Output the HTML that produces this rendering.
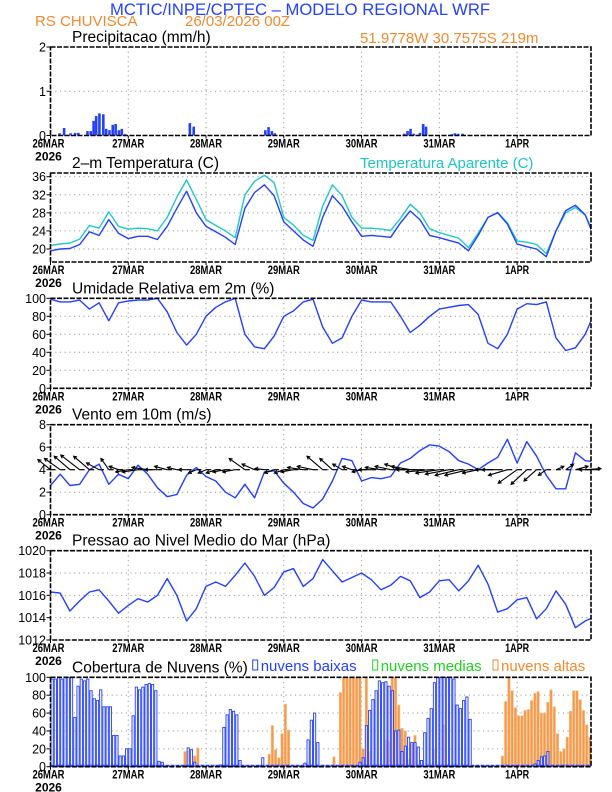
<!DOCTYPE html>
<html><head><meta charset="utf-8"><style>
html,body{margin:0;padding:0;background:#fff;}
svg{display:block;font-family:"Liberation Sans",sans-serif;}
</style></head><body>
<svg id="chart" width="612" height="792" viewBox="0 0 612 792" xmlns="http://www.w3.org/2000/svg">
<text x="300" y="15" text-anchor="middle" font-size="17" fill="#2440ff" textLength="380" lengthAdjust="spacingAndGlyphs">MCTIC/INPE/CPTEC – MODELO REGIONAL WRF</text>
<text x="35" y="26" font-size="15" fill="#f08a30">RS CHUVISCA</text>
<text x="185" y="26" font-size="15" fill="#f08a30">26/03/2026 00Z</text>
<text x="360" y="43" font-size="15" fill="#f08a30">51.9778W 30.7575S 219m</text>
<g id="plots"></g>
</svg>
<script>
// ---- data ----
const dayLabels=["26MAR","27MAR","28MAR","29MAR","30MAR","31MAR","1APR"];
const precipHours=[2.4,3.8,5.8,7.2,8.2,11,12,12.9,13.7,14.7,15.9,16.8,17.8,18.8,19.7,20.7,21.6,22.6,42.6,43.8,65.9,66.9,67.9,68.8,108.8,109.8,110.7,111.7,113.6,114.6,115.5,123.5,124.4,125.4,126.8];
const precipVals=[0.05,0.17,0.05,0.06,0.06,0.1,0.1,0.33,0.44,0.5,0.48,0.15,0.12,0.24,0.26,0.12,0.15,0.03,0.28,0.2,0.12,0.19,0.1,0.05,0.04,0.1,0.15,0.04,0.06,0.26,0.2,0.03,0.05,0.04,0.04];
const tempVals=[19.6,20.0,20.1,21.0,23.8,23.0,26.5,23.5,22.3,22.8,22.8,22.1,25,29,32.8,28,25,23.8,22.6,21,29,32.5,34.2,31.8,26,24,22,20.6,27,31.8,29.5,26,22.8,23,22.8,22.6,25.8,28.4,26.5,23,22.5,21.9,21.3,19.6,23,27,28,25.5,21.1,20.5,20,18.3,24,28.5,29.7,27.6,22.2];
const apparentVals=[20.8,21.1,21.3,22.2,25.2,24.6,28.2,25.0,24.4,24.6,24.5,24.0,27,31.5,35.3,31,26.5,25.2,24,22.5,32,35,36.3,34.7,27,25.3,23,21.9,29.5,34.2,31.8,27,24.6,24.6,24.4,24.1,26.8,29.9,28,24.5,23.6,23,22.4,20.3,23.5,27,28.1,25.8,21.8,21.5,21,19,24,28,29.2,27.5,23];
const rhVals=[99,96,96,98,88,95,75,95,97,98,98,100,85,62,48,60,80,90,96,100,60,46,44,58,80,86,96,99,68,50,56,80,98,96,96,96,80,62,70,80,88,90,92,93,82,50,44,60,88,94,93,96,56,42,45,60,85];
const windVals=[2.6,3.6,2.6,2.7,4.0,4.5,2.7,3.6,3.2,4.4,3.6,2.4,1.6,1.8,3.5,4.2,3.4,3.0,2.0,1.5,2.7,1.5,3.8,3.9,2.8,2.0,1.0,0.6,1.4,3.0,5.0,4.8,3.0,3.3,3.2,3.4,4.6,5.0,5.7,6.2,6.1,5.6,4.8,4.5,4.0,4.6,5.1,6.7,4.6,6.5,5.2,3.5,2.3,2.3,5.5,4.8,4.7];
const windU=[-0.8,-1,-1,-1.2,-1,-0.8,-0.5,-0.6,-0.8,-1,-1,-0.8,-0.8,-0.6,-0.5,-0.5,-0.5,-0.6,-0.8,-0.8,-1,-0.8,-0.6,-0.6,-0.6,-0.8,-1,-1,-1,-0.8,-0.6,-0.6,-0.6,-0.8,-1,-1,-1,-1.2,-1.5,-1.5,-1.5,-1.5,-1.5,-1.5,-1,-0.8,-1,-1.2,-1.2,-1,-0.8,-0.5,0.5,0.5,0.8,1,-1];
const windV=[0.9,1.0,1.2,1.3,1.2,0.6,1.0,0.3,-0.2,-0.2,0.2,0,0.3,0.2,0,-0.3,-0.3,-0.3,-0.2,-0.2,1.0,0.5,0.1,-0.3,-0.3,-0.2,0.2,0.3,1.2,1.0,0.5,0.3,-0.2,0,0.2,0.3,0.5,0.3,0,-0.2,-0.3,-0.4,-0.5,-0.5,-0.3,0,0,-0.5,-1.2,-1.3,-1.0,-0.5,0.3,0.5,0.3,0.1,0];
const pressVals=[1016.3,1016.2,1014.6,1015.5,1016.3,1016.5,1015.5,1014.4,1015.1,1015.7,1015.4,1016,1017.5,1016,1013.7,1014.8,1016.8,1017.2,1016.8,1017.8,1018.9,1017.7,1016,1016.7,1018.1,1018.4,1016.8,1017.5,1019.2,1018.2,1017.2,1017.6,1018,1017.4,1016.5,1016.9,1017.7,1017.3,1015.8,1016.3,1017.3,1017.4,1016.4,1017.3,1018.7,1017,1014.5,1014.8,1015.6,1015.8,1013.9,1014.8,1016.4,1015.2,1013.1,1013.7,1014.1];
const cloudLow=[98,98,100,98,100,100,100,55,90,98,96,98,85,76,74,86,67,67,67,35,35,12,12,20,
20,57,89,86,89,92,93,92,85,6,5,0,
0,0,0,0,0,1,21,19,5,0,0,0,
0,0,0,0,2,44,58,64,62,58,7,0,
0,0,0,0,1,10,0,0,0,0,0,0,
0,0,0,0,0,0,4,30,52,60,27,0,
0,0,0,0,0,0,0,0,0,0,1,5,
10,46,63,75,85,96,94,95,90,85,40,41,
17,23,33,27,27,22,7,38,54,65,94,100,
100,100,100,100,98,69,65,74,78,53,0,0,
0,0,0,0,0,0,0,0,0,0,0,0,
0,0,0,0,0,3,7,11,12,17,0,0,
0,0,0,0,0,0,0,0,0,0,0,0];
const cloudHighHours=[41,42,44,45,67,68,69,70,71,72,73,87,89,90,91,92,93,94,95,96,97,98,103,104,105,106,107,108,109,110,111,112,118,121,139,140,141,142,143,144,145,146,147,148,149,150,151,152,153,154,155,156,157,158,159,160,161,162,163,164,165,166];
const cloudHighVals=[17,18,12,21,14,46,19,10,37,70,41,11,83,100,100,100,100,100,100,20,100,17,30,28,100,100,69,43,40,8,25,35,20,47,12,73,100,85,66,57,57,63,64,74,82,84,60,60,72,86,67,37,17,20,33,62,85,85,75,63,47,33];

// ---- layout ----
const X0=50.5, X1=591, HMAX=166.8;
const NS="http://www.w3.org/2000/svg";
const root=document.getElementById('plots');
function x(h){return X0+h*(X1-X0)/HMAX;}
function mk(tag,attrs,parent){const e=document.createElementNS(NS,tag);for(const k in attrs)e.setAttribute(k,attrs[k]);(parent||root).appendChild(e);return e;}
function txt(s,attrs,parent){const e=mk('text',attrs,parent);e.textContent=s;return e;}
function yScale(p,v){return p.yb-(v-p.min)*(p.yb-p.yt)/(p.max-p.min);}

function panel(name,p,title,ticks,tickLabels){
  const g=mk('g',{});
  
  
  const top=p.frameTop!==undefined?p.frameTop:p.yt, bot=p.frameBot!==undefined?p.frameBot:p.yb;
  for(let d=1;d<7;d++){const l=mk('line',{x1:x(d*24),x2:x(d*24),y1:top,y2:bot,stroke:'#999','stroke-dasharray':'1.2 3.5','stroke-width':1},g);
    }
  ticks.forEach((t,i)=>{const yy=yScale(p,t);
    if(yy>top+1&&yy<bot-1){const l=mk('line',{x1:X0,x2:X1,y1:yy,y2:yy,stroke:'#999','stroke-dasharray':'1.2 3.5','stroke-width':1},g);
      }
    const tl=txt(tickLabels[i],{x:46,y:yy+4.5,'text-anchor':'end','font-size':12.5,fill:'#000'},g);
    
    mk('line',{x1:X0-4,x2:X0,y1:yy,y2:yy,stroke:'#000'},g);
  });
  dayLabels.forEach((s,i)=>{const t=txt(s,{x:x(i*24)+(i==0?-2:0),y:bot+12,'text-anchor':'middle','font-size':12,'font-weight':'bold',fill:'#000',textLength:s.length>4?32:24,lengthAdjust:'spacingAndGlyphs'},g);
    
    mk('line',{x1:x(i*24),x2:x(i*24),y1:bot,y2:bot+3,stroke:'#000'},g);});
  const yr=txt('2026',{x:X0-2,y:bot+25,'text-anchor':'middle','font-size':12,'font-weight':'bold',fill:'#000'},g);
  
  const tt=txt(title,{x:72,y:top-5,'font-size':15.5,fill:'#000'},g);
  
  p.g=g;p.top=top;p.bot=bot;
  return g;
}
function frame(name,p){
  const r=mk('rect',{x:X0,y:p.top,width:X1-X0,height:p.bot-p.top,fill:'none',stroke:'#000','stroke-width':1.6,'stroke-dasharray':'5 1.5'},p.g);
  
}
function line(p,vals,color,name){
  const d=vals.map((v,i)=>(i?'L':'M')+x(i*3).toFixed(1)+','+yScale(p,v).toFixed(1)).join('');
  const cp='clip-'+name;
  const c=mk('clipPath',{id:cp},p.g);mk('rect',{x:X0,y:p.top-5,width:X1-X0,height:p.bot-p.top+10},c);
  const e=mk('path',{d:d,fill:'none',stroke:color,'stroke-width':1.4,'stroke-linejoin':'round','clip-path':'url(#'+cp+')'},p.g);
  
}

// Precip
const P1={yt:47,yb:135.5,min:0,max:2};
panel('precipitation',P1,'Precipitacao (mm/h)',[0,1,2],['0','1','2']);
precipHours.forEach((h,i)=>{const y=yScale(P1,precipVals[i]);
  const b=mk('rect',{x:x(h),y:y,width:2.6,height:P1.yb-y,fill:'#2440ff'},P1.g);
  });
frame('precipitation',P1);

// Temperature
const P2={yt:176.7,yb:249,min:20,max:36,frameTop:173,frameBot:262};
panel('temperature',P2,'2–m Temperatura (C)',[20,24,28,32,36],['20','24','28','32','36']);
const at=txt('Temperatura Aparente (C)',{x:360,y:168,'font-size':15,fill:'#20c4c4'},P2.g);

line(P2,apparentVals,'#22c8c8','apparent-temp-line');
line(P2,tempVals,'#2440ff','temp-line');
frame('temperature',P2);

// Humidity
const P3={yt:298.3,yb:388.3,min:0,max:100};
panel('humidity',P3,'Umidade Relativa em 2m (%)',[0,20,40,60,80,100],['0','20','40','60','80','100']);
line(P3,rhVals,'#2440ff','humidity-line');
frame('humidity',P3);

// Wind
const P4={yt:424.7,yb:514.7,min:0,max:8};
panel('wind',P4,'Vento em 10m (m/s)',[0,2,4,6,8],['0','2','4','6','8']);
line(P4,windVals,'#2440ff','wind-speed-line');
const sc=(P4.yb-P4.yt)/8;
windU.forEach((u,i)=>{const x0=x(i*3),y0=yScale(P4,4),x1=x0+u*sc*1.4,y1=y0-windV[i]*sc;
  const a=mk('line',{x1:x0,y1:y0,x2:x1,y2:y1,stroke:'#000','stroke-width':1.1},P4.g);
  
  const ang=Math.atan2(y1-y0,x1-x0),L=3.5;
  mk('path',{d:`M${x1-L*Math.cos(ang-0.5)},${y1-L*Math.sin(ang-0.5)}L${x1},${y1}L${x1-L*Math.cos(ang+0.5)},${y1-L*Math.sin(ang+0.5)}`,fill:'none',stroke:'#000','stroke-width':1.1},P4.g);
  mk('line',{x1:x0,y1:y0,x2:x(i*3+1.5),y2:y0,stroke:'#000','stroke-width':1.2},P4.g);
});
frame('wind',P4);

// Pressure
const P5={yt:550.7,yb:640,min:1012,max:1020};
panel('pressure',P5,'Pressao ao Nivel Medio do Mar (hPa)',[1012,1014,1016,1018,1020],['1012','1014','1016','1018','1020']);
line(P5,pressVals,'#2440ff','pressure-line');
frame('pressure',P5);

// Clouds
const P6={yt:677.3,yb:766.7,min:0,max:100};
panel('clouds',P6,'Cobertura de Nuvens (%)',[0,20,40,60,80,100],['0','20','40','60','80','100']);
const bw=(X1-X0)/HMAX;
cloudHighHours.forEach((h,i)=>{const y=yScale(P6,cloudHighVals[i]);
  const b=mk('rect',{x:x(h)+0.3,y:y,width:bw-0.8,height:P6.yb-y,fill:'#f59a48',stroke:'#f8c090','stroke-width':0.6},P6.g);
  });
cloudLow.forEach((v,h)=>{if(v<=0)return;const y=yScale(P6,v);
  const b=mk('rect',{x:x(h)+0.5,y:y,width:bw-1,height:P6.yb-y,fill:'#f0f2ff','fill-opacity':0.6,stroke:'#2440ff','stroke-width':0.9},P6.g);
  });
mk('line',{x1:X0,x2:X1,y1:P6.yb-1,y2:P6.yb-1,stroke:'#2440ff','stroke-width':2,'stroke-dasharray':'4 1'},P6.g);
[['nuvens baixas','#2440ff',252.7],['nuvens medias','#22d022',372.7],['nuvens altas','#f08a30',493]].forEach(l=>{
  const g=mk('g',{},P6.g);
  
  mk('rect',{x:l[2],y:660,width:5,height:10,fill:'none',stroke:l[1],'stroke-width':1},g);
  txt(l[0],{x:l[2]+8,y:671,'font-size':15,fill:l[1]},g);
});
frame('clouds',P6);
</script>
</body></html>
